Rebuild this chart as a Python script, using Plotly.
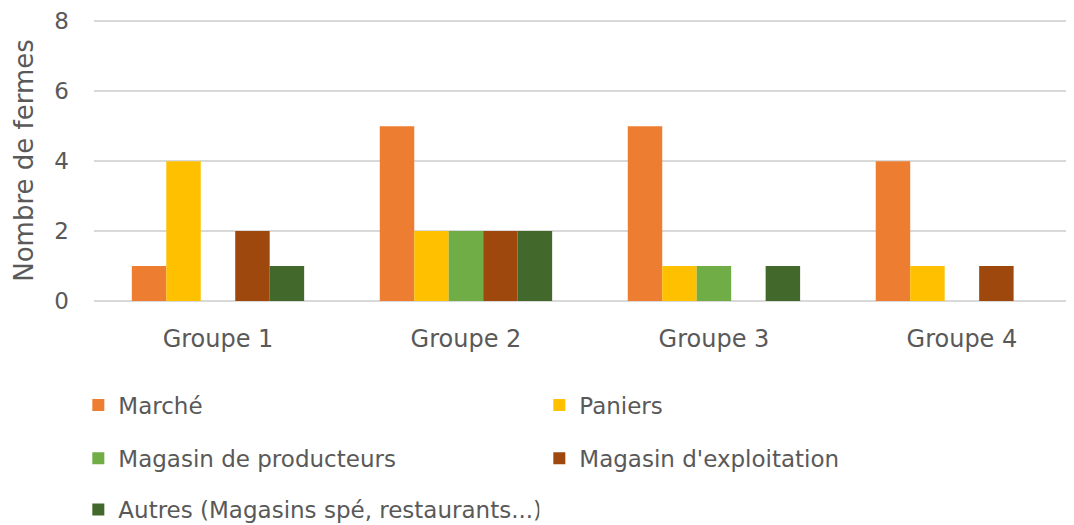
import plotly.graph_objects as go

# Données
groupes = ["Groupe 1", "Groupe 2", "Groupe 3", "Groupe 4"]
marche = [1, 5, 5, 4]
paniers = [4, 2, 1, 1]
magasin_producteurs = [0, 2, 1, 0]
magasin_exploitation = [2, 2, 0, 1]
autres = [1, 2, 1, 0]

series = [
    ("Marché", marche, "#ED7D31", "legend"),
    ("Paniers", paniers, "#FFC000", "legend"),
    ("Magasin de producteurs", magasin_producteurs, "#70AD47", "legend2"),
    ("Magasin d'exploitation", magasin_exploitation, "#9E480E", "legend2"),
    ("Autres (Magasins spé, restaurants...)", autres, "#43682B", "legend3"),
]

TXT = "#595959"
FONT = "DejaVu Sans"

fig = go.Figure()
for nom, valeurs, couleur, leg in series:
    fig.add_trace(go.Bar(
        x=groupes, y=valeurs, name=nom,
        marker=dict(color=couleur, line=dict(width=0)),
        legend=leg,
    ))

# une légende par ligne pour reproduire l'espacement d'Excel
leg_style = dict(
    orientation="h", xanchor="left", yanchor="middle", x=-0.016,
    entrywidth=416, entrywidthmode="pixels",
    font=dict(family=FONT, size=23, color=TXT),
    bgcolor="rgba(0,0,0,0)", itemclick=False,
)

# la page ajoute une marge de 8 px autour du graphique
fig.update_layout(
    width=1066, height=517,
    margin=dict(l=86, r=0, t=12, b=224, autoexpand=False),
    paper_bgcolor="white", plot_bgcolor="white",
    barmode="group", bargap=0.305, bargroupgap=0,
    font=dict(family=FONT, color=TXT),
    legend=dict(**leg_style, y=-0.370),
    legend2=dict(**leg_style, y=-0.560),
    legend3=dict(**leg_style, y=-0.742),
)

fig.update_xaxes(
    range=[-0.5, 3.452],
    showgrid=False, showline=False, zeroline=False,
    tickfont=dict(family=FONT, size=24, color=TXT),
    ticklabelstandoff=21,
)
fig.update_yaxes(
    range=[0, 8.04], tickvals=[0, 2, 4, 6, 8],
    showgrid=True, gridcolor="#D9D9D9", gridwidth=2,
    zeroline=True, zerolinecolor="#D9D9D9", zerolinewidth=2,
    showline=False,
    tickfont=dict(family=FONT, size=23, color=TXT),
    ticklabelstandoff=24,
    title=dict(text="Nombre de fermes", font=dict(family=FONT, size=26, color=TXT), standoff=13),
)

fig.write_html("out.html")
